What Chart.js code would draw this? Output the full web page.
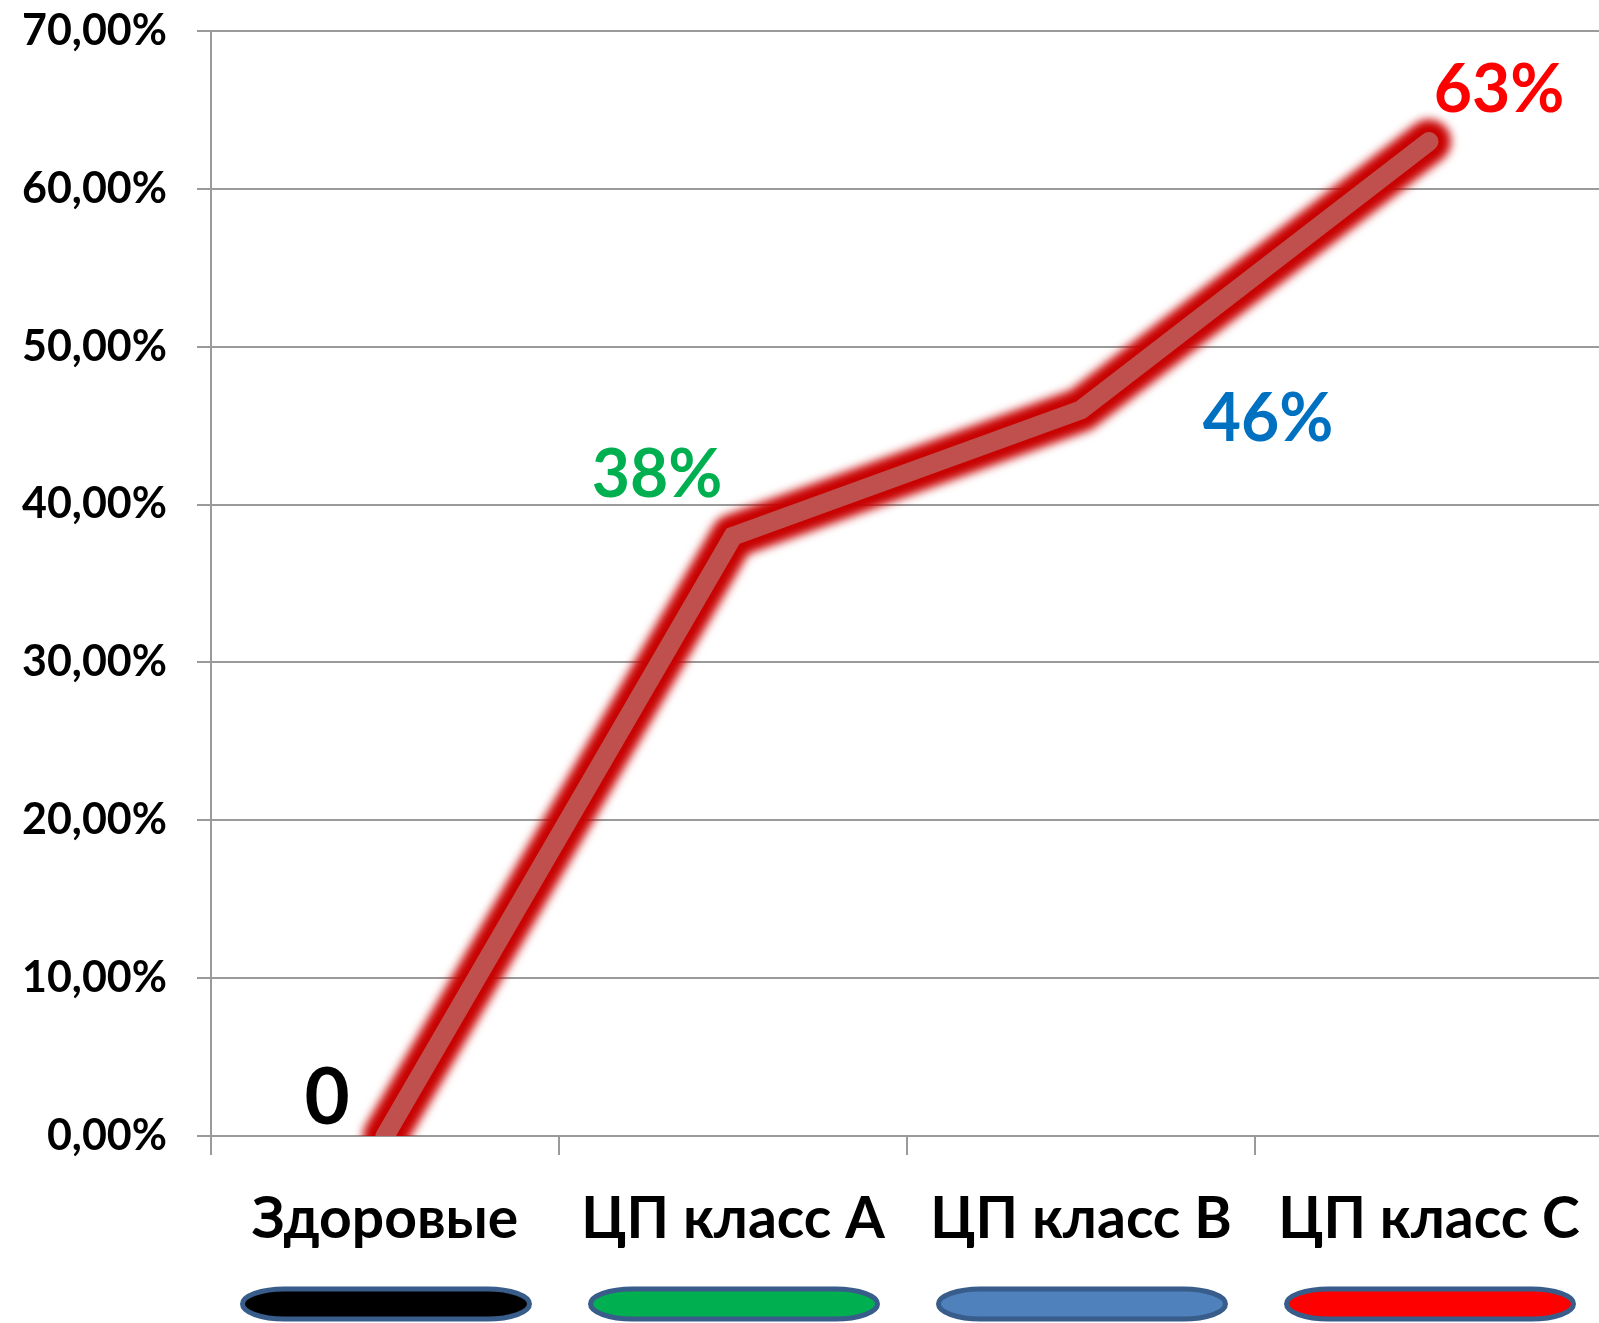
<!DOCTYPE html>
<html>
<head>
<meta charset="utf-8">
<script src="https://cdn.jsdelivr.net/npm/chart.js@4.4.0/dist/chart.umd.min.js"></script>
<style>
  html, body { margin: 0; padding: 0; background: #fff; overflow: hidden; }
  #wrap { width: 1603px; height: 1323px; }
</style>
</head>
<body>
<div id="wrap"><canvas id="cpChart"></canvas></div>
<script>
// chart data
const categories = ['Здоровые', 'ЦП класс A', 'ЦП класс B', 'ЦП класс C'];
const shares = [0, 0.38, 0.46, 0.63];
const shareLabels = ['0', '38%', '46%', '63%'];
const yTickLabels = ['0,00%', '10,00%', '20,00%', '30,00%', '40,00%', '50,00%', '60,00%', '70,00%'];

// styling
const labelColors = ['#000000', '#00B050', '#0070C0', '#FF0000'];
const pillColors = ['#000000', '#00B050', '#4F81BD', '#FF0000'];
const labelOffsets = [[-58, -37], [-76, -60], [187, 10], [70, -51]];
const FONT = 'Lato, "Noto Sans", sans-serif';

// soft red glow under the main line
const glowPlugin = {
    id: 'glow',
    beforeDatasetDraw(chart, args) {
        if (args.index === 1) {
            chart.ctx.save();
            chart.ctx.filter = 'blur(5px)';
        }
    },
    afterDatasetDraw(chart, args) {
        if (args.index === 1) chart.ctx.restore();
    }
};

// coloured value labels next to the points
const valueLabelPlugin = {
    id: 'valueLabels',
    afterDatasetsDraw(chart) {
        const ctx = chart.ctx;
        const meta = chart.getDatasetMeta(0);
        ctx.save();
        ctx.textAlign = 'center';
        ctx.textBaseline = 'middle';
        meta.data.forEach(function(pt, i) {
            const size = i === 0 ? 78 : 66;
            ctx.font = 'bold ' + size + 'px ' + FONT;
            ctx.fillStyle = labelColors[i];
            ctx.fillText(shareLabels[i], pt.x + labelOffsets[i][0], pt.y + labelOffsets[i][1]);
        });
        ctx.restore();
    }
};

// rounded colour markers under the category names
const pillPlugin = {
    id: 'pills',
    afterDraw(chart) {
        const ctx = chart.ctx;
        const xs = chart.scales.x;
        const w = 287, h = 30, cy = 1304;
        ctx.save();
        categories.forEach(function(c, i) {
            const cx = xs.getPixelForValue(i) + 1;
            ctx.beginPath();
            ctx.roundRect(cx - w / 2, cy - h / 2, w, h, { x: 42, y: 15 });
            ctx.fillStyle = pillColors[i];
            ctx.fill();
            ctx.lineWidth = 5;
            ctx.strokeStyle = '#385D8A';
            ctx.stroke();
        });
        ctx.restore();
    }
};

document.addEventListener('DOMContentLoaded', function() {
    const ctx = document.getElementById('cpChart').getContext('2d');
    new Chart(ctx, {
        type: 'line',
        data: {
            labels: categories,
            datasets: [{
                data: shares,
                borderColor: '#C0504D',
                borderWidth: 19,
                borderCapStyle: 'round',
                borderJoinStyle: 'miter',
                pointRadius: 0,
                tension: 0,
                clip: { left: false, top: false, right: false, bottom: 0 }
            }, {
                data: shares,
                borderColor: '#C80000',
                borderWidth: 44,
                borderCapStyle: 'round',
                borderJoinStyle: 'round',
                pointRadius: 0,
                tension: 0,
                clip: { left: false, top: false, right: false, bottom: 0 }
            }]
        },
        options: {
            responsive: true,
            maintainAspectRatio: false,
            animation: false,
            layout: { padding: { top: 31, left: 0, right: 0, bottom: 0 } },
            plugins: {
                legend: { display: false },
                tooltip: { enabled: false }
            },
            scales: {
                x: {
                    offset: true,
                    grid: {
                        offset: true,
                        drawOnChartArea: false,
                        drawTicks: true,
                        tickLength: 19,
                        color: '#9A9A9A',
                        lineWidth: 2
                    },
                    border: { color: '#9A9A9A', width: 2 },
                    ticks: {
                        color: '#000',
                        padding: 30,
                        font: { family: FONT, size: 57, weight: 'bold' },
                        maxRotation: 0,
                        autoSkip: false
                    },
                    afterFit: function(s) {
                        s.height = 187;
                        s.paddingLeft = 0;
                        s.paddingRight = 0;
                    }
                },
                y: {
                    min: 0,
                    max: 0.7,
                    grid: {
                        color: '#9A9A9A',
                        lineWidth: 2,
                        tickLength: 14
                    },
                    border: { color: '#9A9A9A', width: 2 },
                    ticks: {
                        stepSize: 0.1,
                        color: '#000',
                        padding: 30,
                        font: { family: FONT, size: 43, weight: 'bold' },
                        callback: function(v, i) { return yTickLabels[i]; }
                    },
                    afterFit: function(s) {
                        s.width = 211;
                        s.paddingTop = 0;
                        s.paddingBottom = 0;
                    }
                }
            }
        },
        plugins: [glowPlugin, valueLabelPlugin, pillPlugin]
    });
});
</script>
</body>
</html>
